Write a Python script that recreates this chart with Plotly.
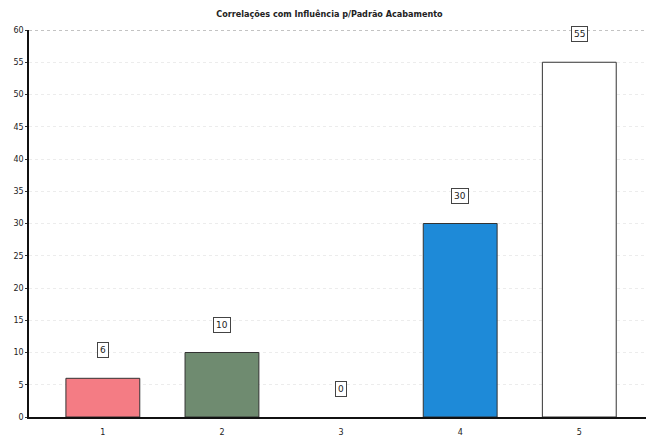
import plotly.graph_objects as go

categories = [1, 2, 3, 4, 5]
values = [6, 10, 0, 30, 55]
colors = ["#f47c84", "#6f8b70", "#ffffff", "#1e8ad8", "#ffffff"]
y_ticks = list(range(0, 61, 5))

fig = go.Figure()
fig.add_trace(go.Bar(
    x=categories, y=values, width=0.62,
    marker=dict(color=colors,
                line=dict(color="#333333", width=[1 if v else 0 for v in values])),
    showlegend=False, hoverinfo="x+y",
))

for c, v in zip(categories, values):
    fig.add_annotation(
        x=c, y=v, text=str(v), showarrow=False, yanchor="bottom",
        yshift=20, font=dict(family="DejaVu Sans", size=9, color="#222"),
        bordercolor="#444", borderwidth=1, borderpad=2, bgcolor="white",
    )

fig.update_layout(
    width=646, height=436,
    margin=dict(l=29, r=0, t=30, b=19),
    paper_bgcolor="white", plot_bgcolor="white",
    title=dict(text="<b>Correlações com Influência p/Padrão Acabamento</b>",
               x=0.51, xanchor="center", y=0.968, yanchor="middle",
               font=dict(family="DejaVu Sans Condensed", size=9, color="#222")),
    xaxis=dict(range=[0.38, 5.56], tickvals=categories,
               ticktext=[str(c) for c in categories],
               showline=True, linecolor="#111", linewidth=2, mirror=False,
               showgrid=False, ticks="", automargin=False, ticklabelstandoff=6,
               tickfont=dict(family="DejaVu Sans", size=8, color="#222"),
               zeroline=False),
    yaxis=dict(range=[0, 60], tickvals=y_ticks, ticktext=[str(t) for t in y_ticks],
               showline=True, linecolor="#111", linewidth=1.5, automargin=False,
               showgrid=True, gridcolor="#ececec", griddash="dot", gridwidth=1,
               ticks="outside", ticklen=2, tickcolor="#333",
               tickfont=dict(family="DejaVu Sans", size=8, color="#222"),
               zeroline=False),
)
fig.add_shape(type="line", xref="paper", yref="y", x0=0, x1=1, y0=60, y1=60,
              line=dict(color="#888", width=1, dash="dot"))

fig.write_html("out.html", config={"displayModeBar": False})

with open("out.html", "r", encoding="utf-8") as f:
    html = f.read()
html = html.replace("<body>", '<body style="margin:0;padding:0;overflow:hidden">', 1)
with open("out.html", "w", encoding="utf-8") as f:
    f.write(html)
